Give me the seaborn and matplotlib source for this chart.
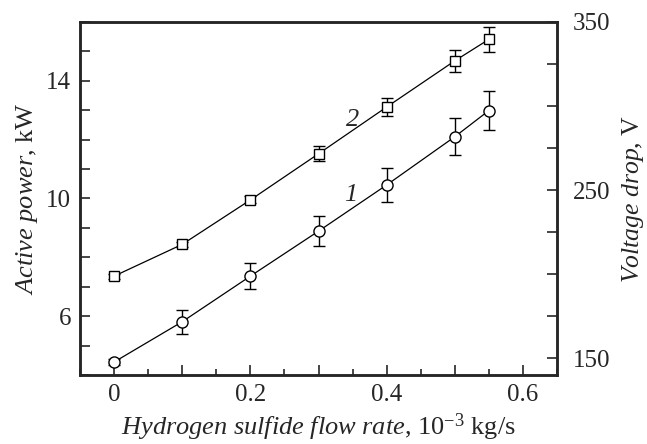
import numpy as np
import pandas as pd
import matplotlib
matplotlib.use("Agg")
import matplotlib.pyplot as plt
import seaborn as sns
from matplotlib import font_manager
from matplotlib.ticker import MultipleLocator, FuncFormatter

# values
flow = [0.0, 0.1, 0.2, 0.3, 0.4, 0.5, 0.55]
power_1 = [4.44, 5.81, 7.36, 8.89, 10.46, 12.10, 12.99]
err_1 = [0.10, 0.40, 0.45, 0.52, 0.57, 0.62, 0.65]
power_2 = [7.36, 8.44, 9.95, 11.52, 13.11, 14.68, 15.41]
err_2 = [0.08, 0.08, 0.12, 0.25, 0.32, 0.38, 0.42]

df = pd.DataFrame({
    'flow': flow * 2,
    'power': power_1 + power_2,
    'err': err_1 + err_2,
    'curve': ['1'] * len(flow) + ['2'] * len(flow),
})

sns.set_style("ticks")
names = sorted(set(f.name for f in font_manager.fontManager.ttflist))
serif = [n for n in names if 'Liberation Serif' in n or 'Times' in n]
if not serif:
    raise SystemExit('fonts: ' + ', '.join(names))
plt.rcParams['font.family'] = 'serif'
plt.rcParams['font.serif'] = serif + ['DejaVu Serif']
plt.rcParams['mathtext.fontset'] = 'custom'
plt.rcParams['mathtext.rm'] = serif[0]
plt.rcParams['mathtext.it'] = serif[0] + ':italic'

fig = plt.figure(figsize=(6.47, 4.44), dpi=100)
ax = fig.add_axes([0.1236, 0.1554, 0.861 - 0.1236, 0.9505 - 0.1554])

for c, d in df.groupby('curve'):
    ax.errorbar(d['flow'], d['power'], yerr=d['err'], fmt='none',
                ecolor='black', elinewidth=1.0, capsize=4, capthick=1.0, zorder=2)

sns.lineplot(data=df, x='flow', y='power', style='curve', hue='curve',
             palette=['black', 'black'], markers={'1': 'o', '2': 's'},
             dashes=False, linewidth=0.9, markersize=8,
             markerfacecolor='white', markeredgecolor='black', markeredgewidth=1.0,
             legend=False, ax=ax, zorder=3)
for ln in ax.get_lines():
    if ln.get_marker() == 's':
        ln.set_markersize(6.5)

ax.set_xlim(-0.05, 0.65)
ax.set_ylim(4, 16)
ax.xaxis.set_major_locator(MultipleLocator(0.1))
ax.xaxis.set_minor_locator(MultipleLocator(0.05))
ax.xaxis.set_major_formatter(FuncFormatter(
    lambda v, p: ('0' if abs(v) < 1e-9 else f'{v:.1f}') if round(v * 10) % 2 == 0 else ''))
ax.yaxis.set_major_locator(MultipleLocator(1))
ax.yaxis.set_major_formatter(FuncFormatter(
    lambda v, p: f'{v:.0f}' if round(v) in (6, 10, 14) else ''))

ax.tick_params(which='major', direction='in', length=7, width=1.2, labelsize=18)
ax.tick_params(which='minor', direction='in', length=4, width=1.2)
ax.tick_params(axis='x', which='major', pad=6.5)
ax.tick_params(axis='y', which='major', pad=6.5)
ax.tick_params(axis='y', which='both', right=False)
for s in ax.spines.values():
    s.set_linewidth(1.8)

ax.set_xlabel(r'$\mathit{Hydrogen\ sulfide\ flow\ rate}$, 10$^{-3}$ kg/s', fontsize=19, labelpad=4)
ax.set_ylabel(r'$\mathit{Active\ power}$, kW', fontsize=19)
ax.yaxis.set_label_coords(-0.084, 0.5)

ax2 = ax.twinx()
ax2.set_ylim(140, 350)
ax2.yaxis.set_major_locator(MultipleLocator(25))
ax2.yaxis.set_major_formatter(FuncFormatter(
    lambda v, p: f'{v:.0f}' if round(v) in (150, 250, 350) else ''))
ax2.tick_params(direction='in', length=7, width=1.2, labelsize=18, pad=11.5)
for s in ax2.spines.values():
    s.set_linewidth(1.8)
ax2.set_ylabel(r'$\mathit{Voltage\ drop}$, V', fontsize=18.5)
ax2.yaxis.set_label_coords(1.132, 0.5)

ax.text(0.35, 12.68, '2', fontsize=19, style='italic', ha='center', va='center')
ax.text(0.347, 10.12, '1', fontsize=19, style='italic', ha='center', va='center')

fig.savefig('out.png', dpi=100)
